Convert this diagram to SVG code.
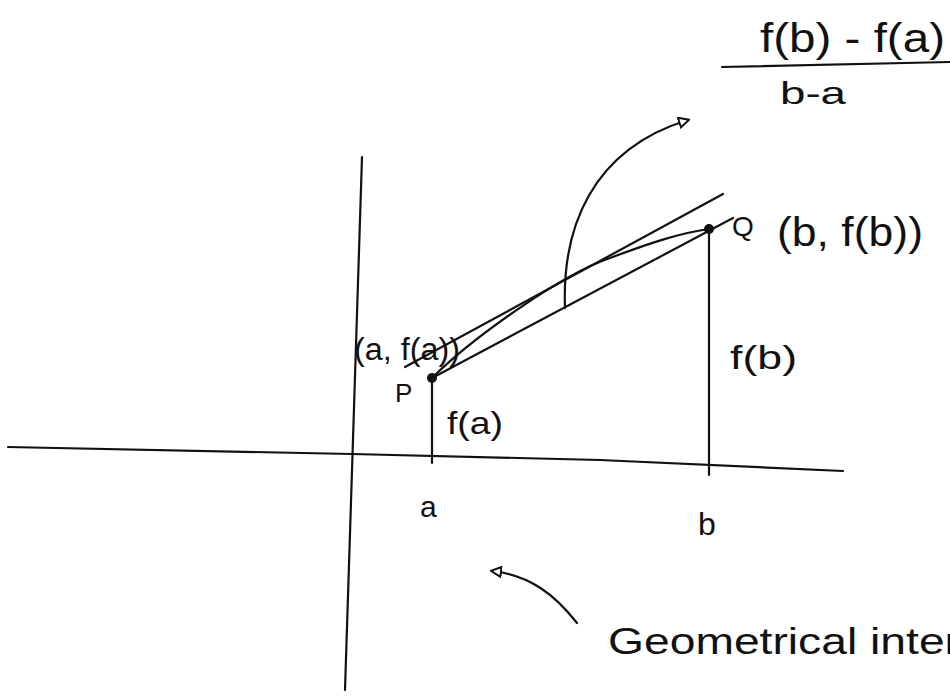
<svg xmlns="http://www.w3.org/2000/svg" width="950" height="697" viewBox="0 0 950 697">
<style>
.ln{fill:none;stroke:#111;stroke-width:2.2;stroke-linecap:round;stroke-linejoin:round}
.t{font-family:"Liberation Sans","DejaVu Sans",sans-serif;fill:#111}
</style>
<defs>
<marker id="ah" viewBox="0 0 12 12" refX="10" refY="6" markerWidth="12" markerHeight="12" markerUnits="userSpaceOnUse" orient="auto">
<path d="M1,1 L11,6 L1,11 Z" fill="#fff" stroke="#111" stroke-width="2"/>
</marker>
</defs>
<rect width="950" height="697" fill="#fff"/>
<g id="axes">
<path class="ln" d="M8,447 L352,454 L600,460 L843,471"/>
<path class="ln" d="M362,157 L345,690"/>
</g>
<g id="connectors">
<path class="ln" d="M432,378 L432,463"/>
<path class="ln" d="M709,229 L709,475"/>
<path class="ln" d="M405,367 L723,194"/>
<path class="ln" d="M432,378 L733,218"/>
<path class="ln" d="M432,378 C470,340 560,275 610,258 C650,243 680,233 709,229"/>
<path class="ln" d="M565,308 C562,230 590,150 688,120" marker-end="url(#ah)"/>
<path class="ln" d="M577,623 C555,595 530,575 492,571" marker-end="url(#ah)"/>
<path class="ln" d="M722,67 L950,62"/>
</g>
<g id="P">
<circle cx="432" cy="378" r="5" fill="#111"/>
<text class="t" x="395" y="402" font-size="26">P</text>
<text class="t" x="354" y="360" font-size="31" textLength="106" lengthAdjust="spacingAndGlyphs">(a, f(a))</text>
</g>
<g id="Q">
<circle cx="709" cy="229" r="5" fill="#111"/>
<text class="t" x="732" y="236" font-size="28">Q</text>
<text class="t" x="777" y="246" font-size="40" textLength="146" lengthAdjust="spacingAndGlyphs">(b, f(b))</text>
</g>
<g id="labels">
<text class="t" x="730" y="369" font-size="34" textLength="67" lengthAdjust="spacingAndGlyphs">f(b)</text>
<text class="t" x="447" y="434" font-size="32" textLength="56" lengthAdjust="spacingAndGlyphs">f(a)</text>
<text class="t" x="420" y="517" font-size="30">a</text>
<text class="t" x="698" y="535" font-size="32">b</text>
</g>
<g id="slope">
<text class="t" x="760" y="52" font-size="40" textLength="185" lengthAdjust="spacingAndGlyphs">f(b) - f(a)</text>
<text class="t" x="780" y="104" font-size="32" textLength="66" lengthAdjust="spacingAndGlyphs">b-a</text>
</g>
<g id="caption">
<text class="t" x="608" y="654" font-size="36" textLength="352" lengthAdjust="spacingAndGlyphs">Geometrical inter</text>
</g>
</svg>
